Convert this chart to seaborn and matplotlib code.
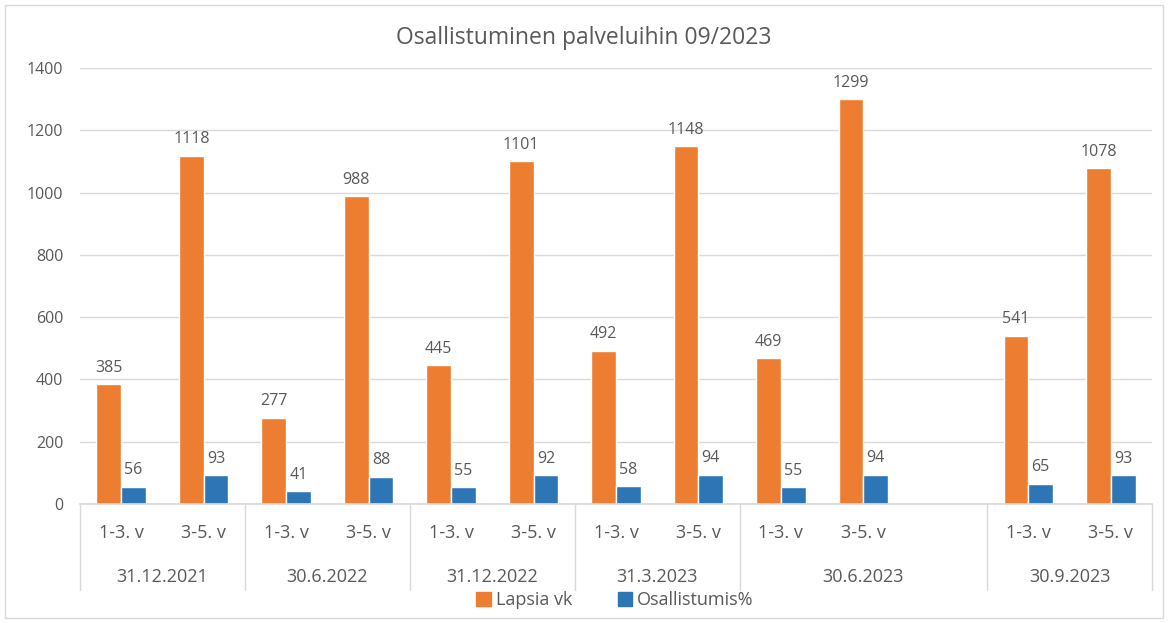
import matplotlib
matplotlib.use("Agg")
import matplotlib.pyplot as plt
import matplotlib.patches as mpatches
import seaborn as sns
import pandas as pd
import numpy as np

dates = ["31.12.2021", "30.6.2022", "31.12.2022", "31.3.2023", "30.6.2023", "30.9.2023"]
groups = ["1-3. v", "3-5. v"]
lapsia_vk = [385, 1118, 277, 988, 445, 1101, 492, 1148, 469, 1299, 541, 1078]
osallistumis = [56, 93, 41, 88, 55, 92, 58, 94, 55, 94, 65, 93]
series_names = ["Lapsia vk", "Osallistumis%"]
# slots per date (30.6.2023 has an extra empty slot)
slots_per_date = [2, 2, 2, 2, 3, 2]

sns.set_theme(style="white")
plt.rcParams['font.family'] = ['Open Sans', 'DejaVu Sans']

# slot positions for each bar pair
slot_idx = []
start = 0
for d, n in zip(dates, slots_per_date):
    slot_idx += [start, start + 1]
    start += n
n_slots = start

rows = []
for i, s in enumerate(slot_idx):
    rows.append({"slot": s, "series": series_names[0], "value": lapsia_vk[i]})
    rows.append({"slot": s, "series": series_names[1], "value": osallistumis[i]})
df = pd.DataFrame(rows)

colors = ["#ED7D31", "#2E75B6"]
text_col = "#595959"

fig = plt.figure(figsize=(11.68, 6.23), dpi=100)
ax = fig.add_axes([80/1168, 1 - 504/623, 1072/1168, 436/623])

sns.barplot(data=df, x="slot", y="value", hue="series", order=list(range(n_slots)),
            palette=colors, width=0.6, ax=ax, legend=False, saturation=1)

for c in ax.containers:
    ax.bar_label(c, padding=6, fontsize=11.5, color=text_col)

ax.set_ylim(0, 1400)
ax.set_yticks(range(0, 1401, 200))
ax.tick_params(axis='y', labelsize=11.5, labelcolor=text_col, length=0, pad=12)
ax.yaxis.grid(True, color="#D9D9D9", linewidth=1)
ax.set_axisbelow(True)
ax.set_xlim(-0.5, n_slots - 0.5)
ax.set_xticks([])
ax.set_xlabel("")
ax.set_ylabel("")
for sp in ["top", "right", "left"]:
    ax.spines[sp].set_visible(False)
ax.spines["bottom"].set_color("#D9D9D9")

trans = matplotlib.transforms.blended_transform_factory(ax.transData, ax.transAxes)
ax_h = 436
y1 = -29 / ax_h
y2 = -73 / ax_h
ysep = -86 / ax_h
start = 0
bounds = [-0.5]
for d, n in zip(dates, slots_per_date):
    for k in range(2):
        ax.text(start + k, y1, groups[k], transform=trans, ha="center", va="center",
                fontsize=13, color=text_col)
    ax.text(start + (n - 1) / 2, y2, d, transform=trans, ha="center", va="center",
            fontsize=13, color=text_col)
    start += n
    bounds.append(start - 0.5)
for b in bounds:
    ax.plot([b, b], [0, ysep], transform=trans, color="#D9D9D9", lw=1, clip_on=False)

fig.text(0.5, 1 - 38/623, "Osallistuminen palveluihin 09/2023", ha="center", va="center",
         fontsize=16.5, color=text_col)

handles = [mpatches.Patch(color=c, label=l) for c, l in zip(colors, series_names)]
fig.legend(handles=handles, loc="center", bbox_to_anchor=(615/1168, 1 - 600/623), ncol=2,
           frameon=False, fontsize=13, labelcolor=text_col, handlelength=0.8, handleheight=0.8,
           handletextpad=0.3, columnspacing=2.5)

fig.add_artist(mpatches.Rectangle((5/1168, 5/623), 1158/1168, 613/623, fill=False,
                                  edgecolor="#D9D9D9", lw=1, transform=fig.transFigure))

fig.savefig("out.png", dpi=100)
